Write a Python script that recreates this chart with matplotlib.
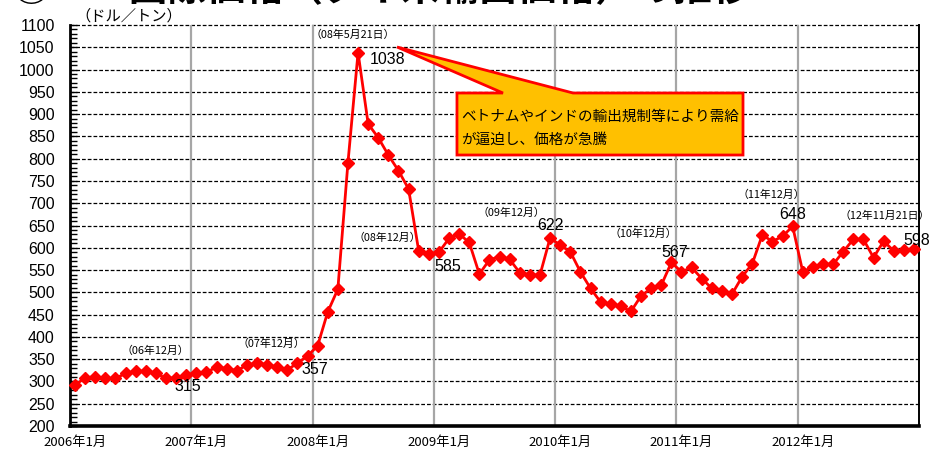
#!/usr/bin/env python3
"""
Thai rice export price (monthly, USD per tonne), 2006-2012.
"""

import matplotlib
matplotlib.use("Agg")
from matplotlib import pyplot as plt
from matplotlib.patches import Polygon
from matplotlib.ticker import MultipleLocator

# =======================
# DATA
# =======================

price_2006 = [292, 308, 311, 307, 307, 318, 323, 323, 318, 307, 308, 315]
price_2007 = [318, 321, 332, 329, 324, 337, 341, 338, 332, 326, 341, 357]
price_2008 = [380, 456, 507, 791, 1038, 878, 847, 808, 773, 732, 593, 585]
price_2009 = [590, 621, 631, 612, 541, 573, 580, 574, 544, 539, 539, 622]
price_2010 = [606, 591, 546, 509, 478, 473, 469, 457, 492, 509, 516, 567]
price_2011 = [546, 556, 531, 509, 504, 496, 535, 564, 629, 614, 626, 648]
price_2012 = [546, 557, 563, 563, 591, 619, 619, 578, 615, 593, 595, 598]

year_labels = ["2006年1月", "2007年1月", "2008年1月", "2009年1月",
               "2010年1月", "2011年1月", "2012年1月"]

# (index into the monthly series, note shown above it)
date_notes = [(11, "（06年12月）"), (23, "（07年12月）"), (28, "（08年5月21日）"),
              (35, "（08年12月）"), (47, "（09年12月）"), (59, "（10年12月）"),
              (71, "（11年12月）"), (83, "（12年11月21日）")]

callout_lines = ["ベトナムやインドの輸出規制等により需給", "が逼迫し、価格が急騰"]

JP = ["Noto Sans CJK JP", "DejaVu Sans"]
NUM = ["Liberation Sans", "DejaVu Sans"]
RED = "#FF0000"

# =======================
# HELPERS
# =======================

def monthly_series():
    return (price_2006 + price_2007 + price_2008 + price_2009
            + price_2010 + price_2011 + price_2012)


def style_axes(ax, n):
    ax.set_xlim(-0.5, n - 0.5)
    ax.set_ylim(200, 1100)

    # dashed horizontal grid, grey year separators
    for v in range(250, 1101, 50):
        ax.axhline(v, color="black", lw=0.9, ls=(0, (3, 1.6)), zorder=1, clip_on=False)
    for k in range(1, len(year_labels)):
        ax.axvline(12 * k - 0.5, color="#A6A6A6", lw=1.6, zorder=1)

    ax.spines["top"].set_visible(False)
    ax.spines["left"].set_linewidth(2.0)
    ax.spines["bottom"].set_linewidth(2.6)
    ax.spines["right"].set_linewidth(1.4)

    ax.set_yticks(range(200, 1101, 50))
    ax.yaxis.set_minor_locator(MultipleLocator(10))
    ax.tick_params(axis="y", which="both", direction="in", length=5, width=1,
                   pad=11, labelsize=11.5)
    for lbl in ax.get_yticklabels():
        lbl.set_family(NUM)

    ax.set_xticks(range(0, n, 12))
    ax.set_xticklabels(year_labels, family=JP, fontsize=9.5)
    ax.tick_params(axis="x", length=0, pad=7)


def value_label(ax, prices, i, dx, dy, ha="center"):
    ax.annotate(str(prices[i]), xy=(i, prices[i]), xytext=(dx, dy),
                textcoords="offset points", ha=ha, va="center",
                fontsize=11.5, family=NUM, zorder=5)


def draw_callout(ax):
    # speech bubble in axes fraction, pointer aimed at the 2008 peak
    pts = [(0.4558, 0.8304), (0.5100, 0.8304), (0.3852, 0.9451),
           (0.5925, 0.8304), (0.7927, 0.8304), (0.7927, 0.6758),
           (0.4558, 0.6758)]
    ax.add_patch(Polygon(pts, closed=True, transform=ax.transAxes,
                         facecolor="#FFC000", edgecolor=RED, lw=2,
                         zorder=6, clip_on=False))
    for k, line in enumerate(callout_lines):
        ax.text(0.4605, 0.7706 - k * 0.0574, line, transform=ax.transAxes,
                ha="left", va="center", fontsize=10.5, family=JP, zorder=7)

# =======================
# MAIN
# =======================

def main():
    prices = monthly_series()
    n = len(prices)

    fig = plt.figure(figsize=(9.4, 4.51), dpi=100)
    ax = fig.add_axes([70 / 940, 25 / 451, 849 / 940, 401 / 451])
    style_axes(ax, n)

    ax.plot(range(n), prices, color=RED, lw=2, marker="D", markersize=6,
            markeredgewidth=1, zorder=4, clip_on=False)

    # price labels at the noted months
    value_label(ax, prices, 11, 1.3, -8.6)
    value_label(ax, prices, 23, 5.4, -9.9)
    value_label(ax, prices, 28, 8.6, -5.3, ha="left")
    value_label(ax, prices, 35, 13.9, -8.4)
    value_label(ax, prices, 47, 0, 9.3)
    value_label(ax, prices, 59, 2.7, 7.5)
    value_label(ax, prices, 71, 0, 8.5)
    value_label(ax, prices, 83, 2.2, 5.9)

    # small date notes (x, y in data units)
    note_pos = {11: (7.9, 368), 23: (19.4, 384), 28: (27.5, 1078),
                35: (30.9, 622), 47: (43.2, 678), 59: (56.2, 631),
                71: (68.9, 720), 83: (80.1, 671)}
    for i, note in date_notes:
        x, y = note_pos[i]
        ax.text(x, y, note, ha="center", va="center", fontsize=7.8,
                family=JP, zorder=5, clip_on=False)

    draw_callout(ax)

    fig.text(75 / 940, 1 - 16 / 451, "（ドル／トン）", ha="left", va="center",
             fontsize=11, family=JP)
    # heading sits at the very top edge of the sheet, mostly trimmed
    fig.text(12 / 940, 1 - 1 / 451, "②　　国際価格（タイ米輸出価格）の推移",
             ha="left", va="baseline", fontsize=28, fontweight="bold", family=JP)

    fig.savefig("out.png", dpi=100)


if __name__ == "__main__":
    main()
